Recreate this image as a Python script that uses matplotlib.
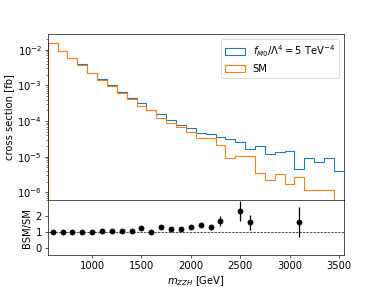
import matplotlib
matplotlib.use("Agg")
import matplotlib.pyplot as plt
import numpy as np

plt.rcParams["font.size"] = 12

# bin edges in m_ZZH [GeV], 100 GeV bins
edges = np.arange(550, 3551, 100)
centers = 0.5 * (edges[:-1] + edges[1:])

# cross section per bin [fb]
sm = [1.58e-2, 9.5e-3, 6.0e-3, 3.7e-3, 2.3e-3, 1.41e-3, 9.8e-4, 6.3e-4, 4.1e-4, 2.6e-4,
      2.0e-4, 1.23e-4, 9.1e-5, 6.6e-5, 4.9e-5, 3.3e-5, 3.3e-5, 2.1e-5, 9.1e-6, 1.07e-5,
      1.05e-5, 3.4e-6, 2.2e-6, 3.3e-6, 1.7e-6, 2.75e-6, 1.15e-6, 1.15e-6, 1.15e-6, 0.0]
bsm = [1.58e-2, 9.5e-3, 6.0e-3, 3.9e-3, 2.3e-3, 1.48e-3, 1.0e-3, 6.6e-4, 4.3e-4, 3.2e-4,
       2.0e-4, 1.58e-4, 1.07e-4, 7.6e-5, 6.5e-5, 4.7e-5, 4.3e-5, 3.5e-5, 3.2e-5, 2.5e-5,
       1.66e-5, 1.95e-5, 1.2e-5, 1.35e-5, 1.41e-5, 4.5e-6, 9.3e-6, 7.1e-6, 9.3e-6, 4.0e-6]

# ratio points visible in the lower panel
ratio_x = [600, 700, 800, 900, 1000, 1100, 1200, 1300, 1400, 1500, 1600, 1700, 1800,
           1900, 2000, 2100, 2200, 2300, 2500, 2600, 3100]
ratio_y = [1.0, 1.0, 1.0, 1.0, 1.0, 1.06, 1.02, 1.05, 1.05, 1.22, 1.0, 1.27, 1.18,
           1.15, 1.31, 1.42, 1.29, 1.68, 2.33, 1.6, 1.6]
ratio_err = [0.02, 0.02, 0.02, 0.02, 0.02, 0.03, 0.03, 0.03, 0.04, 0.05, 0.05, 0.06, 0.07,
             0.08, 0.1, 0.13, 0.15, 0.33, 0.63, 0.47, 0.95]

fig = plt.figure(figsize=(382 / 60, 287 / 60), dpi=60)
gs = fig.add_gridspec(2, 1, height_ratios=[3, 1], hspace=0)
ax1 = fig.add_subplot(gs[0])
ax2 = fig.add_subplot(gs[1], sharex=ax1)

ax1.hist(centers, bins=edges, weights=bsm, histtype='step', color='tab:blue', lw=1.3,
         label=r'$f_{M0}/\Lambda^4 = 5$ TeV$^{-4}$')
ax1.hist(centers, bins=edges, weights=sm, histtype='step', color='tab:orange', lw=1.3,
         label='SM')
ax1.set_yscale('log')
ax1.set_ylim(6e-7, 2.7e-2)
ax1.set_xlim(550, 3550)
ax1.set_ylabel('cross section [fb]')
ax1.legend(loc='upper right')
plt.setp(ax1.get_xticklabels(), visible=False)

ax2.errorbar(ratio_x, ratio_y, yerr=ratio_err, fmt='o', color='black')
ax2.axhline(1, color='black', linestyle='--', linewidth=0.8)
ax2.set_ylim(-0.5, 3)
ax2.set_yticks([0, 1, 2])
ax2.set_ylabel('BSM/SM')
ax2.set_xlabel(r'$m_{ZZH}$ [GeV]')

fig.savefig("out.png", dpi=60)
